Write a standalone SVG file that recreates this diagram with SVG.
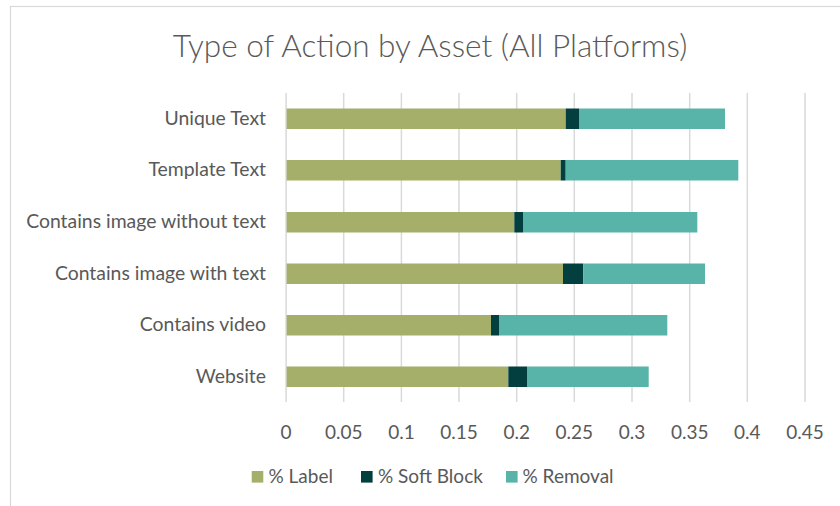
<svg xmlns="http://www.w3.org/2000/svg" width="840" height="506" viewBox="0 0 840 506">
<style>
text{font-family:Lato,"Liberation Sans",sans-serif;fill:#595959}
.title{font-size:31.5px;font-weight:300}
.cat{font-size:19.4px;text-anchor:end}
.tick{font-size:19px;text-anchor:middle}
.leg{font-size:19px}
.grid{stroke:#d9d9d9;stroke-width:1.5}
.lab{fill:#a5af69}
.soft{fill:#033f3f}
.rem{fill:#58b3a9}
</style>
<rect x="10.5" y="6.5" width="840" height="510" fill="#fff" stroke="#d9d9d9" stroke-width="1.2"/>
<text class="title" x="430" y="57" text-anchor="middle">Type of Action by Asset (All Platforms)</text>
<g id="gridlines">
<line class="grid" x1="286.1" y1="93" x2="286.1" y2="402"/>
<line class="grid" x1="343.7" y1="93" x2="343.7" y2="402"/>
<line class="grid" x1="401.4" y1="93" x2="401.4" y2="402"/>
<line class="grid" x1="459" y1="93" x2="459" y2="402"/>
<line class="grid" x1="516.7" y1="93" x2="516.7" y2="402"/>
<line class="grid" x1="574.3" y1="93" x2="574.3" y2="402"/>
<line class="grid" x1="632" y1="93" x2="632" y2="402"/>
<line class="grid" x1="689.7" y1="93" x2="689.7" y2="402"/>
<line class="grid" x1="747.3" y1="93" x2="747.3" y2="402"/>
<line class="grid" x1="805" y1="93" x2="805" y2="402"/>
</g>
<g id="axis-x">
<text class="tick" x="286.1" y="439">0</text>
<text class="tick" x="343.7" y="439">0.05</text>
<text class="tick" x="401.4" y="439">0.1</text>
<text class="tick" x="459" y="439">0.15</text>
<text class="tick" x="516.7" y="439">0.2</text>
<text class="tick" x="574.3" y="439">0.25</text>
<text class="tick" x="632" y="439">0.3</text>
<text class="tick" x="689.7" y="439">0.35</text>
<text class="tick" x="747.3" y="439">0.4</text>
<text class="tick" x="805" y="439">0.45</text>
</g>
<g id="unique-text">
<text class="cat" x="266" y="124.5">Unique Text</text>
<rect class="lab" x="286.6" y="108.5" width="279.1" height="20.5"/>
<rect class="soft" x="565.7" y="108.5" width="13.3" height="20.5"/>
<rect class="rem" x="579" y="108.5" width="146" height="20.5"/>
</g>
<g id="template-text">
<text class="cat" x="266" y="176">Template Text</text>
<rect class="lab" x="286.6" y="160" width="274.1" height="20.5"/>
<rect class="soft" x="560.7" y="160" width="5" height="20.5"/>
<rect class="rem" x="565.7" y="160" width="172.6" height="20.5"/>
</g>
<g id="image-without-text">
<text class="cat" x="266" y="228">Contains image without text</text>
<rect class="lab" x="286.6" y="212" width="227.7" height="20.5"/>
<rect class="soft" x="514.3" y="212" width="8.7" height="20.5"/>
<rect class="rem" x="523" y="212" width="174.3" height="20.5"/>
</g>
<g id="image-with-text">
<text class="cat" x="266" y="279.5">Contains image with text</text>
<rect class="lab" x="286.6" y="263.5" width="276.4" height="20.5"/>
<rect class="soft" x="563" y="263.5" width="20.3" height="20.5"/>
<rect class="rem" x="583.3" y="263.5" width="121.7" height="20.5"/>
</g>
<g id="contains-video">
<text class="cat" x="266" y="331">Contains video</text>
<rect class="lab" x="286.6" y="315" width="204.4" height="20.5"/>
<rect class="soft" x="491" y="315" width="8" height="20.5"/>
<rect class="rem" x="499" y="315" width="168.3" height="20.5"/>
</g>
<g id="website">
<text class="cat" x="266" y="382.5">Website</text>
<rect class="lab" x="286.6" y="366.5" width="221.7" height="20.5"/>
<rect class="soft" x="508.3" y="366.5" width="18.7" height="20.5"/>
<rect class="rem" x="527" y="366.5" width="121.7" height="20.5"/>
</g>
<g id="legend">
<rect class="lab" x="251.7" y="471" width="11.6" height="11.6"/>
<text class="leg" x="268.5" y="482.5">% Label</text>
<rect class="soft" x="361" y="471" width="11.6" height="11.6"/>
<text class="leg" x="378" y="482.5">% Soft Block</text>
<rect class="rem" x="506" y="471" width="11.6" height="11.6"/>
<text class="leg" x="522.5" y="482.5">% Removal</text>
</g>
</svg>
